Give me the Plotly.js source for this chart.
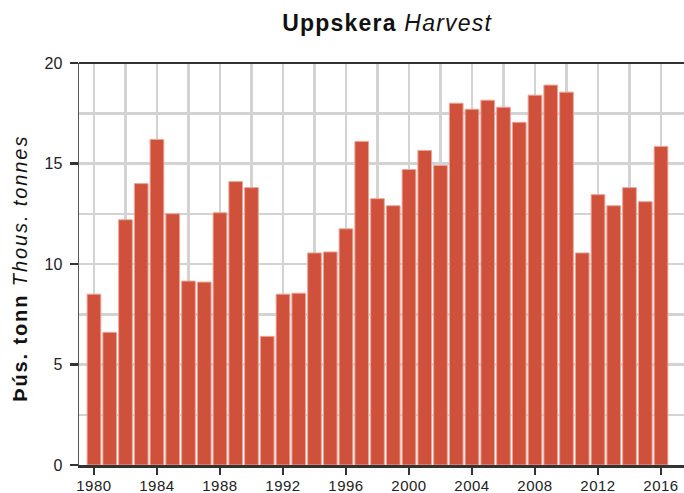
<!DOCTYPE html>
<html><head><meta charset="utf-8">
<script src="https://cdn.plot.ly/plotly-3.0.1.min.js"></script>
<style>
html,body{margin:0;padding:0;background:#fff;}
#chart{width:684px;height:493px;}
.gtitle{letter-spacing:1.2px;}
.ytitle-ann text{letter-spacing:1.9px;}
.xtick text{letter-spacing:0.5px;}
</style>
</head><body><div id="chart"></div>
<script>
const years = [1980,1981,1982,1983,1984,1985,1986,1987,1988,1989,1990,1991,1992,1993,1994,1995,1996,1997,1998,1999,2000,2001,2002,2003,2004,2005,2006,2007,2008,2009,2010,2011,2012,2013,2014,2015,2016];
const harvest = [8.5,6.6,12.2,14.0,16.2,12.5,9.15,9.1,12.55,14.1,13.8,6.4,8.5,8.55,10.55,10.6,11.75,16.1,13.25,12.9,14.7,15.65,14.9,18.0,17.7,18.15,17.8,17.05,18.4,18.9,18.55,10.55,13.45,12.9,13.8,13.1,15.85];
const xTicks = [1980,1984,1988,1992,1996,2000,2004,2008,2012,2016];
const yTicks = [0,5,10,15,20];
const chartTitle = '<b>Uppskera</b> <i>Harvest</i>';
const yTitle = '<b>Þús. tonn</b> <i>Thous. tonnes</i>';

const font = 'Liberation Sans, Arial, Helvetica, sans-serif';
Plotly.newPlot('chart', [{
  type: 'bar', x: years, y: harvest,
  marker: {color: '#cf513c', line: {color: '#eba597', width: 1}},
  hoverinfo: 'x+y'
}], {
  width: 684, height: 493,
  margin: {l: 79, r: 0, t: 63, b: 28},
  paper_bgcolor: '#fff', plot_bgcolor: '#fff',
  bargap: 0.13,
  showlegend: false,
  font: {family: font, color: '#222'},
  title: {text: chartTitle, font: {size: 23, color: '#111', family: font}, xref: 'container', x: 0.566, xanchor: 'center', y: 0.953, yanchor: 'middle'},
  xaxis: {
    range: [1979.05, 2017.46],
    tickvals: xTicks, ticktext: xTicks.map(String),
    ticks: 'outside', ticklen: 7, tickwidth: 2.5, tickcolor: '#333',
    ticklabelstandoff: -2,
    showgrid: true, gridcolor: '#d3d3d3', gridwidth: 2.5,
    minor: {dtick: 2, tick0: 1980, showgrid: true, gridcolor: '#d3d3d3', gridwidth: 2.5, ticks: ''},
    showline: true, linecolor: '#333', linewidth: 2.5,
    zeroline: false,
    tickfont: {size: 15, color: '#222'}
  },
  yaxis: {
    range: [0, 20],
    tickvals: yTicks, ticktext: yTicks.map(String),
    ticks: 'outside', ticklen: 8, tickwidth: 2.5, tickcolor: '#333',
    ticklabelstandoff: 4,
    showgrid: true, gridcolor: '#d3d3d3', gridwidth: 2.5,
    minor: {dtick: 2.5, tick0: 0, showgrid: true, gridcolor: '#d3d3d3', gridwidth: 2.5, ticks: ''},
    showline: true, linecolor: '#555', linewidth: 1.5,
    zeroline: false,
    tickfont: {size: 16, color: '#222'}
  },
  annotations: [{
    text: yTitle, textangle: -90, showarrow: false,
    xref: 'paper', yref: 'paper', x: -0.0975, y: 0.4876, xanchor: 'center', yanchor: 'middle',
    font: {size: 20, color: '#111', family: font}
  }],
  shapes: [{type: 'line', xref: 'paper', yref: 'paper', x0: 0, x1: 1, y0: 1, y1: 1, line: {color: '#333', width: 2}}]
}, {displayModeBar: false, staticPlot: true}).then(function(){
  document.querySelectorAll('.annotation').forEach(function(a){ a.classList.add('ytitle-ann'); });
});
</script></body></html>
